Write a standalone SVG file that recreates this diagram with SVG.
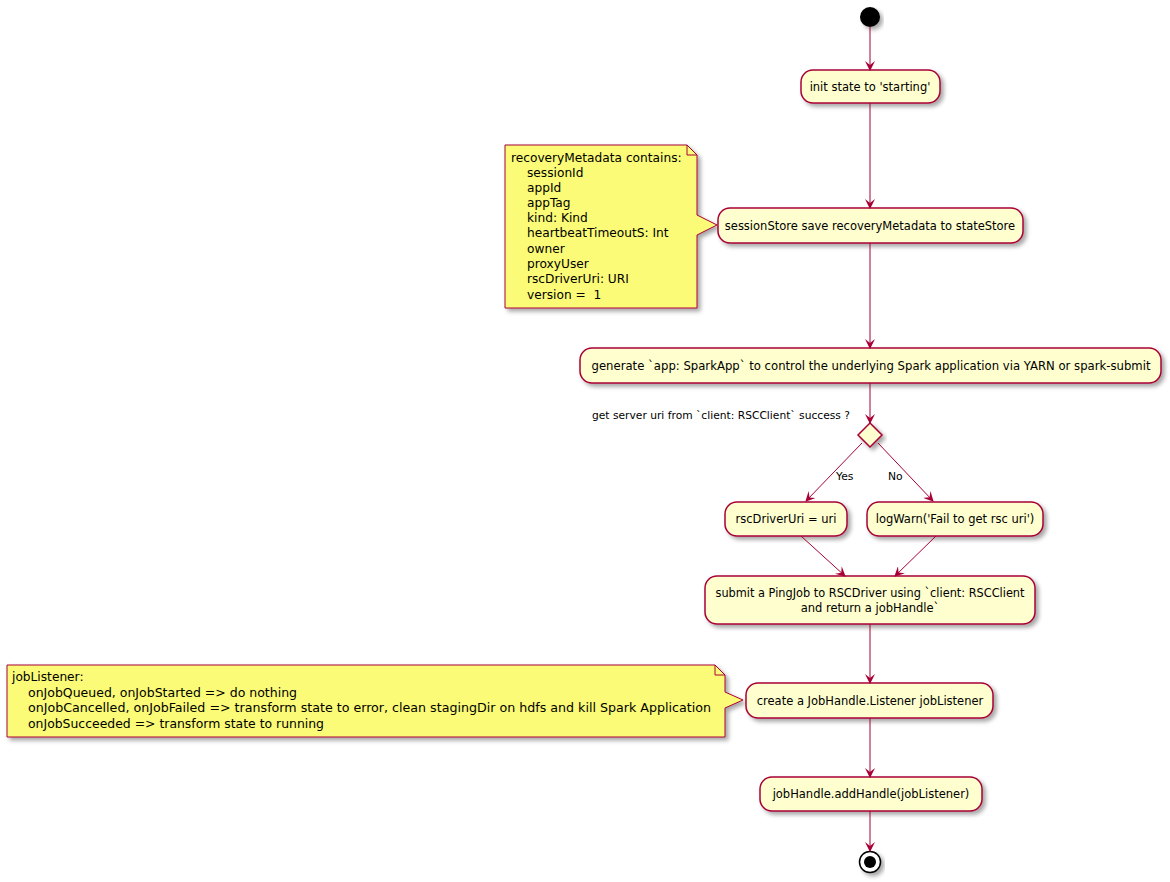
<svg xmlns="http://www.w3.org/2000/svg" width="1170" height="882" viewBox="0 0 1170 882">
<defs>
<filter id="sh" x="-10%" y="-10%" width="130%" height="150%">
<feDropShadow dx="3" dy="3" stdDeviation="2" flood-color="#000" flood-opacity="0.35"/>
</filter>
<marker id="ar" viewBox="0 0 10 10" refX="9" refY="5" markerWidth="10" markerHeight="10" markerUnits="userSpaceOnUse" orient="auto">
<path d="M0,0 L10,5 L0,10 L4,5 Z" fill="#A80036"/>
</marker>
</defs>
<style>
.box{fill:#FEFECE;stroke:#A80036;stroke-width:1.5;filter:url(#sh)}
.note{fill:#FBFB77;stroke:#A80036;stroke-width:1;filter:url(#sh)}
.fold{fill:none;stroke:#A80036;stroke-width:1}
.t{font-family:"DejaVu Sans","Liberation Sans",sans-serif;font-size:11.5px;fill:#000}
.n{font-family:"DejaVu Sans","Liberation Sans",sans-serif;font-size:12.2px;fill:#000}
.c{text-anchor:middle}
.l{font-family:"DejaVu Sans","Liberation Sans",sans-serif;font-size:10.8px;fill:#000}
.ln{fill:none;stroke:#A80036;stroke-width:1;marker-end:url(#ar)}
</style>
<g id="start"><circle cx="870" cy="17" r="10" fill="#000" filter="url(#sh)"/></g>
<g id="n1"><rect class="box" x="801" y="70" width="139" height="33" rx="12"/><text class="t c" x="870" y="91">init state to 'starting'</text></g>
<g id="note1">
<path class="note" d="M505,145 L687,145 L697,155 L697,215 L717,225 L697,235 L697,308 L505,308 Z"/>
<path class="fold" d="M687,145 L687,155 L697,155"/>
<text class="n" x="511" y="162">recoveryMetadata contains:</text>
<text class="n" x="527" y="177">sessionId</text>
<text class="n" x="527" y="192">appId</text>
<text class="n" x="527" y="207">appTag</text>
<text class="n" x="527" y="222">kind: Kind</text>
<text class="n" x="527" y="237">heartbeatTimeoutS: Int</text>
<text class="n" x="527" y="253">owner</text>
<text class="n" x="527" y="268">proxyUser</text>
<text class="n" x="527" y="283">rscDriverUri: URI</text>
<text class="n" x="527" y="299" xml:space="preserve">version =  1</text>
</g>
<g id="n2"><rect class="box" x="718" y="208" width="305" height="35" rx="12"/><text class="t c" x="870" y="230">sessionStore save recoveryMetadata to stateStore</text></g>
<g id="n3"><rect class="box" x="580" y="348" width="581" height="35" rx="12"/><text class="t c" x="871" y="370" textLength="559" lengthAdjust="spacingAndGlyphs">generate `app: SparkApp` to control the underlying Spark application via YARN or spark-submit</text></g>
<g id="d1"><path d="M870,423 L882,435 L870,447 L858,435 Z" fill="#FEFECE" stroke="#A80036" stroke-width="1.5" filter="url(#sh)"/>
<text class="l" x="592" y="419" textLength="258" lengthAdjust="spacingAndGlyphs">get server uri from `client: RSCClient` success ?</text></g>
<g id="n4"><rect class="box" x="725" y="502" width="122" height="34" rx="12"/><text class="t c" x="786" y="523">rscDriverUri = uri</text></g>
<g id="n5"><rect class="box" x="867" y="502" width="176" height="34" rx="12"/><text class="t c" x="955" y="523">logWarn('Fail to get rsc uri')</text></g>
<g id="n6"><rect class="box" x="705" y="576" width="330" height="48" rx="12"/><text class="t c" x="870" y="597" textLength="309" lengthAdjust="spacingAndGlyphs">submit a PingJob to RSCDriver using `client: RSCClient</text><text class="t c" x="870" y="612">and return a jobHandle`</text></g>
<g id="note2">
<path class="note" d="M7,665 L715,665 L725,675 L725,692 L743,700 L725,708 L725,737 L7,737 Z"/>
<path class="fold" d="M715,665 L715,675 L725,675"/>
<text class="n" x="12" y="681">jobListener:</text>
<text class="n" x="28" y="697" textLength="269" lengthAdjust="spacingAndGlyphs">onJobQueued, onJobStarted =&gt; do nothing</text>
<text class="n" x="28" y="712" textLength="683" lengthAdjust="spacingAndGlyphs">onJobCancelled, onJobFailed =&gt; transform state to error, clean stagingDir on hdfs and kill Spark Application</text>
<text class="n" x="28" y="728" textLength="296" lengthAdjust="spacingAndGlyphs">onJobSucceeded =&gt; transform state to running</text>
</g>
<g id="n7"><rect class="box" x="746" y="683" width="247" height="35" rx="12"/><text class="t c" x="870" y="705">create a JobHandle.Listener jobListener</text></g>
<g id="n8"><rect class="box" x="760" y="777" width="222" height="34" rx="12"/><text class="t c" x="871" y="798">jobHandle.addHandle(jobListener)</text></g>
<g id="end"><circle cx="870" cy="862" r="10.5" fill="#fff" stroke="#000" stroke-width="1.5" filter="url(#sh)"/><circle cx="870" cy="862" r="6" fill="#000"/></g>
<g id="connectors">
<line class="ln" x1="870" y1="27" x2="870" y2="70"/>
<line class="ln" x1="870" y1="103" x2="870" y2="208"/>
<line class="ln" x1="870" y1="243" x2="870" y2="348"/>
<line class="ln" x1="870" y1="383" x2="870" y2="423"/>
<line class="ln" x1="862" y1="443" x2="806" y2="501"/>
<line class="ln" x1="878" y1="443" x2="933" y2="501"/>
<text class="l" x="836" y="480">Yes</text>
<text class="l" x="888" y="480">No</text>
<line class="ln" x1="801" y1="536" x2="845" y2="576"/>
<line class="ln" x1="936" y1="536" x2="895" y2="576"/>
<line class="ln" x1="870" y1="624" x2="870" y2="683"/>
<line class="ln" x1="870" y1="718" x2="870" y2="777"/>
<line class="ln" x1="870" y1="811" x2="870" y2="851"/>
</g>
</svg>
